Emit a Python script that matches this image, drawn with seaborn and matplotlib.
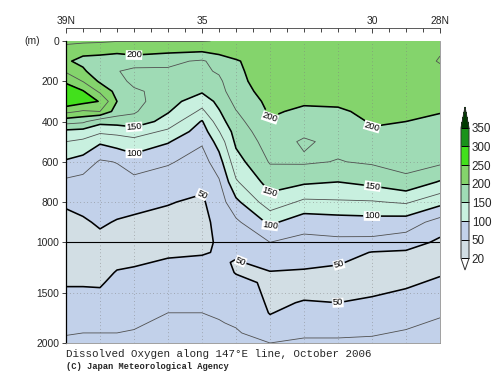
import numpy as np
import matplotlib
matplotlib.use("Agg")
import matplotlib.pyplot as plt
from matplotlib.colors import ListedColormap, BoundaryNorm
import seaborn as sns

# Stations (deg N) and sample depths (m)
lats = [39.0, 38.5, 38.0, 37.5, 37.0, 36.0, 35.0, 34.5, 34.0, 33.0, 32.0, 31.0, 30.0, 29.0, 28.0]
depths = [0, 50, 100, 150, 200, 250, 300, 350, 400, 450, 500, 600, 700, 800, 900,
          1000, 1100, 1200, 1300, 1400, 1500, 1600, 1700, 1800, 1900, 2000]

# Dissolved oxygen (umol/kg) per station, top to bottom
o2_390 = [232, 212, 203, 222, 245, 268, 268, 232, 185, 143, 125, 97, 70, 52, 46, 43, 42, 43, 45, 48, 53, 58, 63, 68, 74, 78]
o2_385 = [230, 206, 194, 204, 224, 252, 258, 222, 180, 140, 120, 90, 66, 55, 48, 44, 43, 43, 45, 48, 53, 58, 63, 68, 75, 79]
o2_380 = [228, 208, 188, 184, 196, 220, 249, 225, 158, 130, 104, 72, 62, 56, 52, 46, 43, 43, 45, 48, 52, 57, 62, 68, 75, 79]
o2_375 = [226, 205, 185, 176, 182, 192, 200, 188, 160, 132, 112, 76, 64, 56, 49, 45, 45, 47, 51, 55, 59, 63, 67, 71, 75, 79]
o2_370 = [226, 210, 185, 170, 170, 178, 183, 178, 165, 137, 117, 88, 68, 55, 47, 44, 44, 47, 54, 58, 62, 66, 70, 73, 76, 80]
o2_360 = [226, 205, 180, 172, 172, 168, 160, 152, 140, 120, 102, 78, 62, 51, 45, 43, 46, 53, 60, 65, 69, 72, 75, 78, 80, 82]
o2_350 = [226, 202, 172, 170, 175, 153, 135, 120, 98, 88, 78, 64, 55, 47, 44, 44, 48, 55, 61, 66, 69, 72, 75, 77, 79, 81]
o2_345 = [224, 208, 185, 178, 170, 165, 157, 148, 139, 124, 110, 90, 72, 62, 56, 53, 52, 54, 58, 62, 66, 70, 73, 76, 78, 80]
o2_340 = [220, 210, 198, 196, 194, 190, 182, 174, 167, 160, 155, 140, 122, 94, 70, 60, 54, 48, 49, 55, 61, 66, 70, 73, 77, 80]
o2_330 = [215, 214, 213, 212, 211, 209, 206, 203, 198, 192, 186, 177, 160, 140, 105, 75, 65, 57, 49, 47, 46, 47, 49, 55, 65, 75]
o2_320 = [218, 216, 214, 212, 210, 207, 203, 196, 188, 180, 172, 178, 154, 120, 85, 68, 62, 54, 48, 46, 47, 51, 58, 65, 72, 78]
o2_310 = [220, 218, 216, 214, 212, 209, 204, 197, 190, 185, 181, 174, 150, 122, 88, 70, 60, 51, 47, 46, 47, 50, 57, 64, 72, 78]
o2_300 = [222, 220, 218, 216, 213, 210, 207, 205, 202, 198, 190, 178, 157, 123, 90, 69, 49, 46, 45, 46, 48, 53, 59, 66, 73, 79]
o2_290 = [220, 219, 217, 215, 213, 211, 208, 205, 200, 196, 192, 185, 168, 128, 88, 62, 47, 45, 45, 47, 52, 58, 64, 71, 77, 82]
o2_280 = [222, 224, 226, 222, 216, 211, 206, 201, 196, 192, 188, 180, 148, 108, 65, 45, 42, 44, 48, 53, 58, 65, 72, 78, 83, 87]

levels = [20, 50, 100, 150, 200, 250, 300, 350]
band_colors = ["#d2dee4", "#c2d1ea", "#c8f0df", "#9fdbb5", "#84d46c", "#42e01c", "#1a931a"]

thick_levels = [50, 100, 150, 200, 250, 300]
thin_levels = [75, 125, 175, 225, 275]

# where the contour labels sit
label_lat = [37.0, 33.0, 30.05, 37.0, 33.0, 30.0, 37.0, 33.0, 30.0, 35.0, 33.8, 31.0, 31.0]
label_depth = [95, 393, 443, 428, 766, 741, 557, 925, 870, 731, 1139, 1198, 1604]

yticks = [0, 200, 400, 600, 800, 1000, 1500, 2000]
xticks = [39, 35, 30, 28]
xtick_labels = ["39N", "35", "30", "28N"]

sns.set_style("white")
plt.rcParams.update({
    "font.family": ["Liberation Sans", "DejaVu Sans"],
    "axes.linewidth": 0.6,
})

o2 = np.column_stack([o2_390, o2_385, o2_380, o2_375, o2_370, o2_360, o2_350, o2_345,
                      o2_340, o2_330, o2_320, o2_310, o2_300, o2_290, o2_280])


def fwd(d):
    d = np.asarray(d, dtype=float)
    return np.where(d <= 1000, d, 1000 + (d - 1000) / 2)


def inv(y):
    y = np.asarray(y, dtype=float)
    return np.where(y <= 1000, y, 1000 + (y - 1000) * 2)


fig = plt.figure(figsize=(5.0, 3.87), dpi=100)
ax = fig.add_axes([0.132, 0.1137, 0.748, 0.7804])
ax.set_yscale("function", functions=(fwd, inv))
ax.set_xlim(39, 28)
ax.set_ylim(2000, 0)

cmap = ListedColormap(band_colors)
cmap.set_under("white")
cmap.set_over("#003c00")
norm = BoundaryNorm(levels, cmap.N)

cf = ax.contourf(lats, depths, o2, levels=levels, cmap=cmap, norm=norm, extend="both", zorder=1)

for lat in range(29, 39):
    ax.axvline(lat, color="#808080", lw=0.5, ls=(0, (1, 4)), zorder=1.5)
for d in [600, 800, 1500]:
    ax.axhline(d, color="#808080", lw=0.5, ls=(0, (1, 4)), zorder=1.5)

cs_thin = ax.contour(lats, depths, o2, levels=thin_levels, colors="#505050", linewidths=0.6, zorder=2)
cs_thick = ax.contour(lats, depths, o2, levels=thick_levels, colors="black", linewidths=1.15, zorder=2.2)
ax.axhline(1000, color="black", lw=0.8, zorder=2.3)

labels = ax.clabel(cs_thick, levels=[50, 100, 150, 200], manual=list(zip(label_lat, label_depth)),
                   fmt="%d", fontsize=6.8, inline=True, inline_spacing=1)
for t in labels:
    t.set_bbox(dict(facecolor="white", edgecolor="none", pad=0.2))

# axes dressing
ax.set_yticks(yticks)
ax.set_yticklabels([str(v) for v in yticks])
ax.tick_params(axis="y", direction="out", length=3, width=0.6, labelsize=7.4, pad=2, left=True)

ax.xaxis.tick_top()
ax.set_xticks(xticks)
ax.set_xticklabels(xtick_labels)
ax.set_xticks(np.arange(28, 39.5, 0.5), minor=True)
ax.tick_params(axis="x", which="both", top=True, bottom=False, labeltop=True, labelbottom=False,
               direction="in", width=0.6, labelsize=7.4, pad=1.5)
ax.tick_params(axis="x", which="major", length=3.6)
ax.tick_params(axis="x", which="minor", length=2.9)

ax.spines["top"].set_position(("outward", 9.4))
ax.spines["top"].set_color("#404040")
ax.spines["left"].set_color("black")
ax.spines["left"].set_linewidth(0.9)
for s in ["right", "bottom"]:
    ax.spines[s].set_color("#909090")
    ax.spines[s].set_linewidth(0.6)

ax.text(-0.09, 1.0, "(m)", transform=ax.transAxes, ha="center", va="center", fontsize=7.4)

# colour bar
cax = fig.add_axes([0.922, 1 - 270 / 387, 0.016, 163 / 387])
cb = fig.colorbar(cf, cax=cax, ticks=levels, extendfrac=(0.09, 0.16), drawedges=True)
cb.outline.set_linewidth(0.7)
cb.outline.set_edgecolor("#303030")
cb.dividers.set_color("black")
cb.dividers.set_linewidth(0.7)
cb.ax.tick_params(length=0, labelsize=8.4, pad=2)

fig.text(0.132, 1 - 357 / 387, "Dissolved Oxygen along 147\u00b0E line, October 2006",
         family="Liberation Mono", fontsize=7.8, va="baseline", ha="left")
fig.text(0.132, 1 - 369 / 387, "(C) Japan Meteorological Agency",
         family="Liberation Mono", fontsize=6.3, fontweight="bold", va="baseline", ha="left")

fig.savefig("out.png", dpi=100)
